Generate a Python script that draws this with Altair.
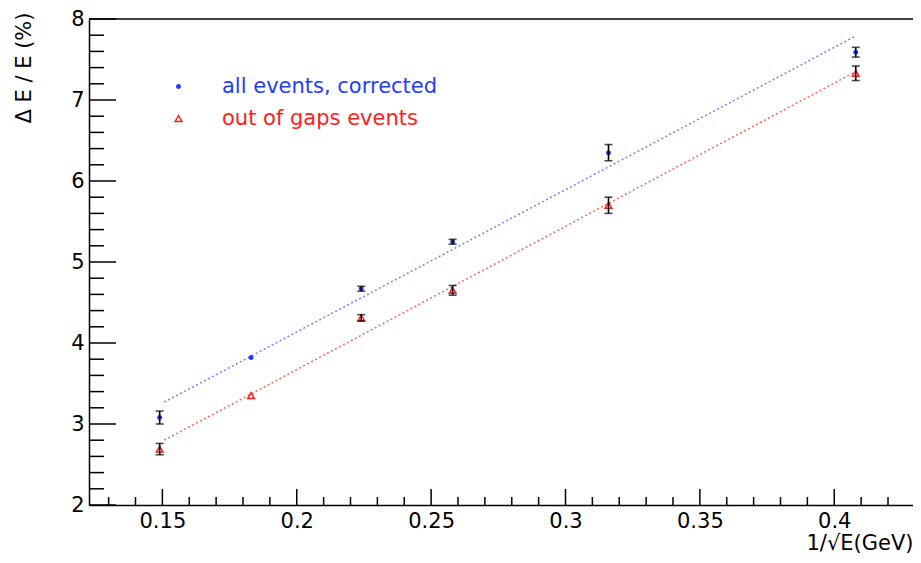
import altair as alt
import pandas as pd

# ---- data ----
x_vals = [0.149, 0.183, 0.224, 0.258, 0.316, 0.408]          # 1/sqrt(E)
blue_vals = [3.08, 3.82, 4.67, 5.25, 6.35, 7.59]            # all events, corrected
blue_err = [0.08, 0.0, 0.03, 0.03, 0.10, 0.06]
red_vals = [2.69, 3.35, 4.31, 4.65, 5.70, 7.33]             # out of gaps events
red_err = [0.07, 0.0, 0.04, 0.06, 0.10, 0.09]
fit_x = [0.1507, 0.4074]
fit_blue = [3.27, 7.78]
fit_red = [2.80, 7.34]
series_names = ["all events, corrected", "out of gaps events"]

x_major = [0.15, 0.2, 0.25, 0.3, 0.35, 0.4]
x_minor = [round(0.13 + 0.01 * i, 2) for i in range(30) if (13 + i) % 5 != 0]
y_major = [2, 3, 4, 5, 6, 7, 8]
y_minor = [round(2 + 0.2 * i, 1) for i in range(31) if i % 5 != 0]

BLUE = "#1f3dff"
RED = "#ff2020"
FONT = "DejaVu Sans"

W, H = 824, 486

pts = pd.DataFrame({
    "x": x_vals * 2,
    "y": blue_vals + red_vals,
    "err": blue_err + red_err,
    "series": [series_names[0]] * 6 + [series_names[1]] * 6,
})
pts["lo"] = pts["y"] - pts["err"]
pts["hi"] = pts["y"] + pts["err"]

fit = pd.DataFrame({
    "x": fit_x * 2,
    "y": fit_blue + fit_red,
    "series": [series_names[0]] * 2 + [series_names[1]] * 2,
})

xs = alt.Scale(domain=[0.1227, 0.4293], nice=False, zero=False)
ys = alt.Scale(domain=[2, 8], nice=False, zero=False)

X = alt.X("x:Q", scale=xs, title="1/√E(GeV)",
          axis=alt.Axis(values=x_major, format=".2~f", labelPadding=5,
                        titleAnchor="end", titleAlign="right", titleX=W, titleY=38,
                        titleBaseline="middle"))
Y = alt.Y("y:Q", scale=ys, title="Δ E / E (%)",
          axis=alt.Axis(values=y_major, format="d", labelPadding=5, titleAngle=270,
                        titleAlign="right", titleBaseline="middle",
                        titleX=-65, titleY=-7, titleAnchor="end"))

leg = alt.Legend(orient="none", legendX=79, legendY=57, title=None,
                 labelFont=FONT, labelFontSize=21, labelOffset=33, labelLimit=600,
                 rowPadding=10, symbolStrokeWidth=1.5,
                 labelColor=alt.ExprRef(
                     "datum.value === 'all events, corrected' ? '%s' : '%s'" % (BLUE, RED)))

base = alt.Chart(pts)

lines_blue = alt.Chart(fit[fit.series == series_names[0]]).mark_line(
    color="#5a6cff", strokeDash=[2, 2.5], strokeWidth=1.5, opacity=0.85
).encode(x=X, y=Y)
lines_red = alt.Chart(fit[fit.series == series_names[1]]).mark_line(
    color="#ff4a4a", strokeDash=[2, 2.5], strokeWidth=1.5, opacity=0.85
).encode(x=X, y=Y)

markers = base.mark_point(opacity=1, strokeWidth=1.5).encode(
    x=X, y=Y,
    shape=alt.Shape("series:N", scale=alt.Scale(domain=series_names, range=["circle", "triangle-up"]), legend=leg),
    stroke=alt.Stroke("series:N", scale=alt.Scale(domain=series_names, range=[BLUE, RED]), legend=leg),
    fill=alt.Fill("series:N", scale=alt.Scale(domain=series_names, range=[BLUE, "transparent"]), legend=leg),
    size=alt.Size("series:N", scale=alt.Scale(domain=series_names, range=[12, 45]), legend=leg),
)

eb = base.transform_filter("datum.err > 0")
err_rule = eb.mark_rule(color="black", strokeWidth=1.6).encode(
    x=X, y=alt.Y("lo:Q", scale=ys), y2="hi:Q")
cap_lo = eb.mark_tick(color="black", thickness=1.6, size=8, orient="horizontal").encode(
    x=X, y=alt.Y("lo:Q", scale=ys))
cap_hi = eb.mark_tick(color="black", thickness=1.6, size=8, orient="horizontal").encode(
    x=X, y=alt.Y("hi:Q", scale=ys))

# inward ROOT-style ticks and top frame line
ymaj = alt.Chart(pd.DataFrame({"y": y_major})).mark_rule(color="black", strokeWidth=1.5).encode(
    y=Y, x=alt.value(0), x2=alt.value(27))
ymin = alt.Chart(pd.DataFrame({"y": y_minor})).mark_rule(color="black", strokeWidth=1.5).encode(
    y=Y, x=alt.value(0), x2=alt.value(15))
xmaj = alt.Chart(pd.DataFrame({"x": x_major})).mark_rule(color="black", strokeWidth=1.5).encode(
    x=X, y=alt.value(H), y2=alt.value(H - 16))
xmin = alt.Chart(pd.DataFrame({"x": x_minor})).mark_rule(color="black", strokeWidth=1.5).encode(
    x=X, y=alt.value(H), y2=alt.value(H - 8))
top = alt.Chart(pd.DataFrame({"y": [8]})).mark_rule(color="black", strokeWidth=1.5).encode(
    y=Y, x=alt.value(0), x2=alt.value(W))

chart = alt.layer(
    lines_blue, lines_red, markers, err_rule, cap_lo, cap_hi, ymaj, ymin, xmaj, xmin, top
).properties(
    width=W, height=H,
    autosize=alt.AutoSizeParams(type="none"),
    padding={"left": 81, "top": 11, "right": 0, "bottom": 48},
    background="white",
).configure_view(
    strokeOpacity=0
).configure_axis(
    domainColor="black", domainWidth=1.5, ticks=False, grid=False,
    labelFont=FONT, labelFontSize=21, labelColor="black",
    titleFont=FONT, titleFontSize=21, titleColor="black", titleFontWeight="normal",
)

chart.save("out.html", embed_options={"renderer": "svg", "actions": False})
